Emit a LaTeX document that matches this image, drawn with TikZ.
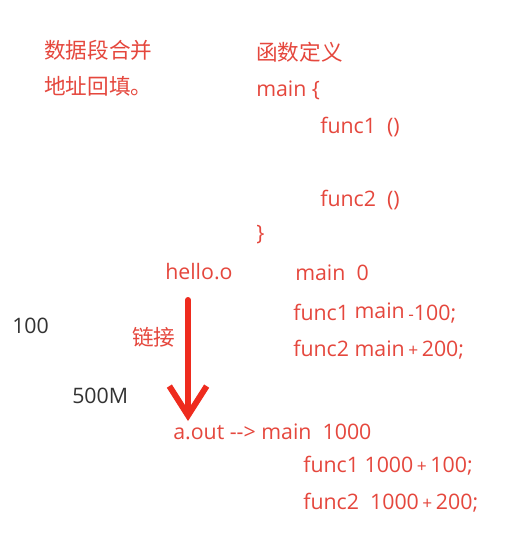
\documentclass[tikz,border=0pt]{standalone}
\usepackage{fontspec}
\setmainfont{Open Sans}
\newfontfamily\cjk{Noto Sans CJK SC}
\usetikzlibrary{arrows.meta}
\definecolor{txtred}{HTML}{E5473D}
\definecolor{arrred}{HTML}{EE2B1E}
\definecolor{txtdark}{HTML}{333333}
\begin{document}
\begin{tikzpicture}[x=0.75pt,y=-0.75pt,
  lbl/.style={anchor=west,inner sep=0pt,text=txtred,font=\fontsize{16}{18}\selectfont},
  clbl/.style={lbl,font=\fontsize{16.2}{18}\selectfont\cjk},
  dlbl/.style={lbl,text=txtdark},
  link/.style={draw=arrred,line width=4.5pt,line cap=round,-{Straight Barb[length=22pt,width=28pt,line width=4.5pt]}}]
\useasboundingbox[fill=white] (0,0) rectangle (522,547);
\node[clbl] (t1) at (44,50) {数据段合并};
\node[clbl] (t2) at (44,86) {地址回填。};
\node[clbl] (fd) at (256,52) {函数定义};
\node[lbl] (m1) at (256,90) {main \{};
\node[lbl] (f1) at (320,127) {func1\ \ ()};
\node[lbl] (f2) at (320,200) {func2\ \ ()};
\node[lbl] (cb) at (256,235) {\}};
\node[lbl] (ho) at (165,272) {hello.o};
\node[lbl] (m0) at (295,273) {main\ \ 0};
\node[lbl] (r1) at (293,313) {func1 \raisebox{2pt}{main}\,{\fontsize{13}{14}\selectfont -}100;};
\node[lbl] (r2) at (293,350) {func2 main\,{\fontsize{13}{14}\selectfont +}\,200;};
\node[dlbl] (n100) at (12,326) {100};
\node[clbl] (lj) at (132,337) {链接};
\node[dlbl] (n500) at (72,396) {500M};
\node[lbl] (ao) at (173,432) {a.out -{}-{}> main\ \ 1000};
\node[lbl] (a1) at (303,466) {func1 1000\,{\fontsize{13}{14}\selectfont +}\,100;};
\node[lbl] (a2) at (303,503) {func2\ \ 1000\,{\fontsize{13}{14}\selectfont +}\,200;};
\coordinate (s) at (188,300);
\coordinate (e) at (188,421);
\draw[link] (s) -- (e);
\end{tikzpicture}
\end{document}
